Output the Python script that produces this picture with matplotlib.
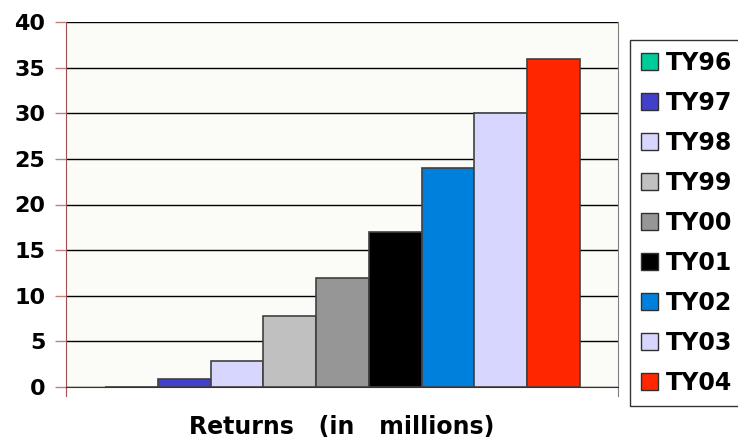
import numpy as np
import matplotlib.pyplot as plt
from matplotlib.patches import Patch

# data
years = ["TY96", "TY97", "TY98", "TY99", "TY00", "TY01", "TY02", "TY03", "TY04"]
returns = [0.0, 0.9, 2.8, 7.8, 12.0, 17.0, 24.0, 30.0, 36.0]
colors = ["#00CC99", "#4040CC", "#D6D6FF", "#C0C0C0", "#969696",
          "#000000", "#0080DD", "#D6D6FF", "#FF2600"]

fig = plt.figure(figsize=(7.38, 4.42), dpi=100)
fig.patch.set_facecolor("white")
ax = fig.add_axes([66 / 738, 55 / 442, 552 / 738, 365 / 442])
ax.set_facecolor("#FBFBF8")

x = np.arange(len(years))
ax.bar(x, returns, width=1.0, color=colors, edgecolor="#404040", linewidth=1.2, zorder=3)

ax.set_xlim(-1.24, 9.22)
ax.set_ylim(0, 40)
ax.set_yticks(np.arange(0, 41, 5))
ax.set_xticks([])
ax.yaxis.grid(True, color="black", linewidth=1.0, zorder=0)

for lbl in ax.get_yticklabels():
    lbl.set_fontweight("heavy")
ax.tick_params(axis="y", labelsize=16, length=8, width=1, color="#C08080", pad=7)

ax.spines["top"].set_visible(False)
ax.spines["left"].set_color("#A05050")
ax.spines["left"].set_bounds(-1, 40)
ax.spines["bottom"].set_color("#602020")
ax.spines["right"].set_color("#808080")
ax.spines["right"].set_bounds(-1, 40)

ax.set_xlabel("Returns   (in   millions)", fontsize=17, fontweight="heavy", labelpad=20)

# legend on the right
handles = [Patch(facecolor=c, edgecolor="#303030", linewidth=1.0) for c in colors]
leg = fig.legend(handles, years, loc="upper left",
                 bbox_to_anchor=(630 / 738, 1 - 40 / 442),
                 frameon=True, fancybox=False, edgecolor="black",
                 prop={"size": 17, "weight": "heavy"},
                 handlelength=0.75, handleheight=0.75, handletextpad=0.3,
                 labelspacing=0.68, borderpad=0.45, borderaxespad=0.0)
leg.get_frame().set_linewidth(1.0)
leg.get_frame().set_facecolor("white")

fig.savefig("out.png", dpi=100)
